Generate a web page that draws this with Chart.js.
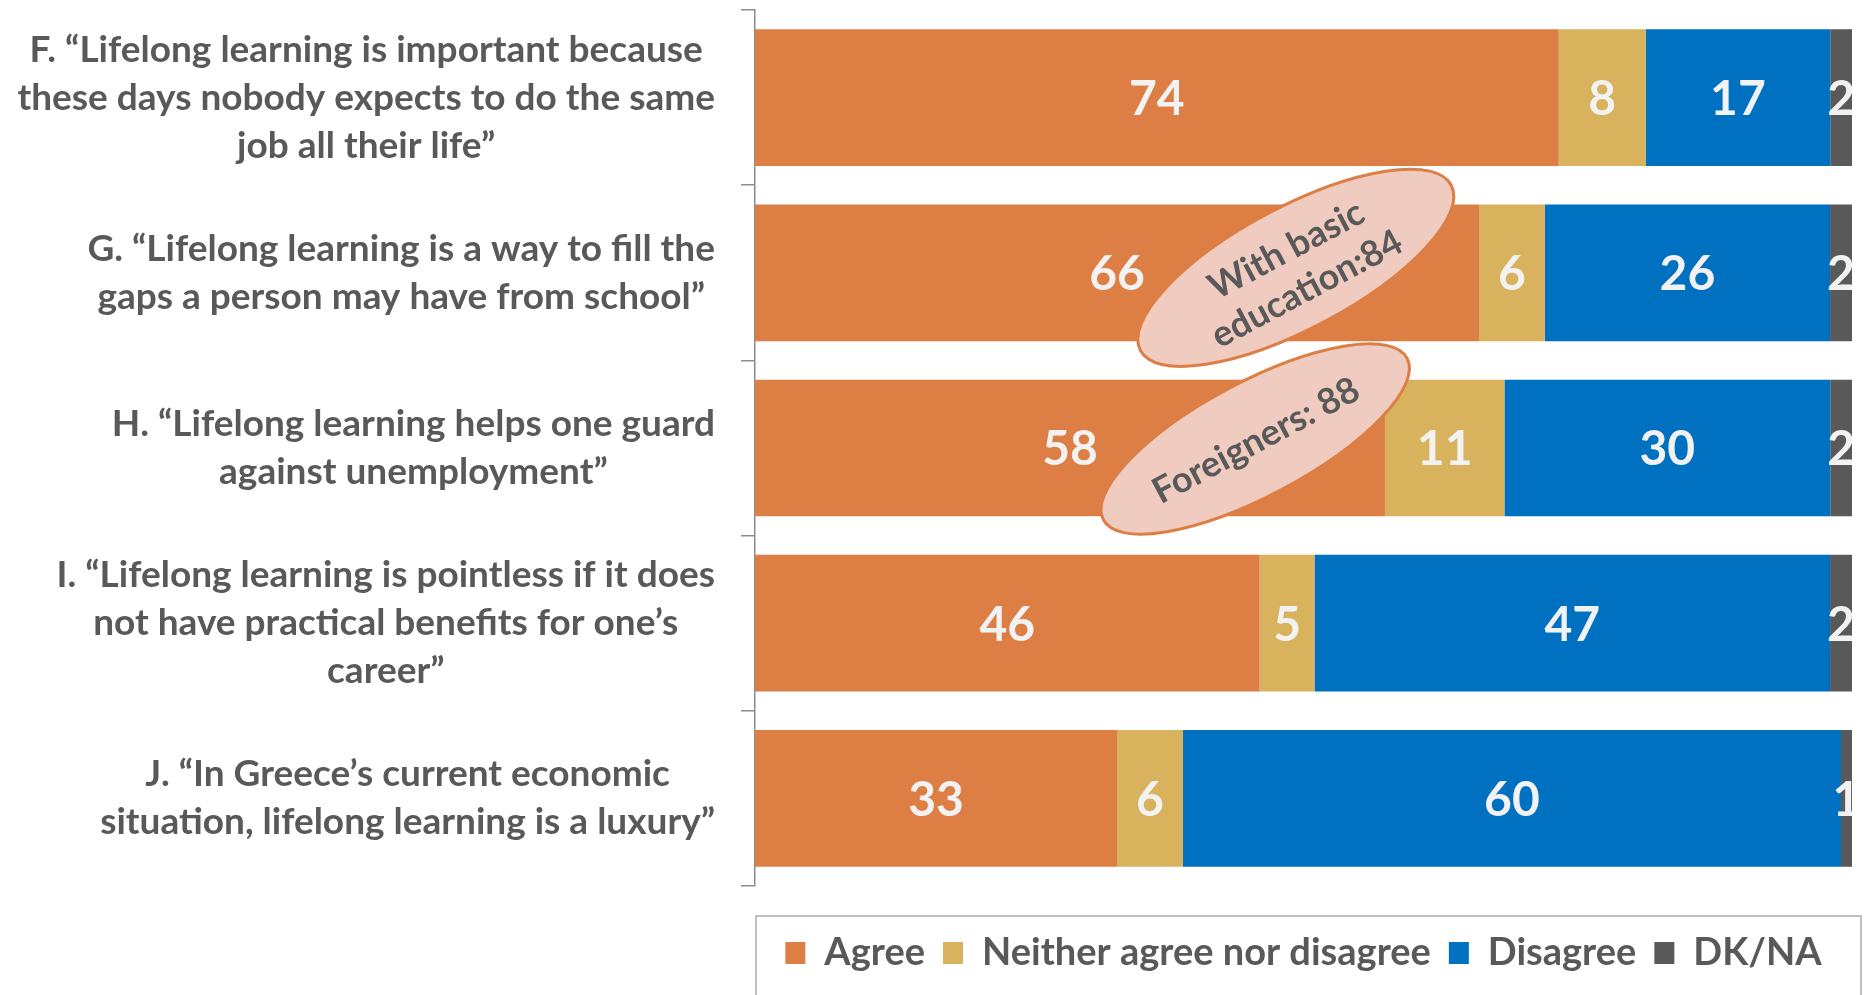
<!DOCTYPE html>
<html>
<head>
<meta charset="utf-8">
<script src="https://cdn.jsdelivr.net/npm/chart.js@4.4.1/dist/chart.umd.min.js"></script>
<style>
  html, body { margin: 0; padding: 0; background: #fff; }
  #wrap { width: 1874px; height: 995px; }
</style>
</head>
<body>
<div id="wrap"><canvas id="lllChart" width="1874" height="995"></canvas></div>
<script>
// statements (one entry per bar, split in lines as on the slide)
const categories = [
  ['F. “Lifelong learning is important because', 'these days nobody expects to do the same', 'job all their life”'],
  ['G. “Lifelong learning is a way to fill the', 'gaps a person may have from school”'],
  ['H. “Lifelong learning helps one guard', 'against unemployment”'],
  ['I. “Lifelong learning is pointless if it does', 'not have practical benefits for one’s', 'career”'],
  ['J. “In Greece’s current economic', 'situation, lifelong learning is a luxury”']
];
const seriesNames = ['Agree', 'Neither agree nor disagree', 'Disagree', 'DK/NA'];
const agree    = [74, 66, 58, 46, 33];
const neither  = [8, 6, 11, 5, 6];
const disagree = [17, 26, 30, 47, 60];
const dkna     = [2, 2, 2, 2, 1];
const calloutTexts = [['With basic', 'education:84'], ['Foreigners: 88']];

const colors = ['#dd7f45', '#d8b25d', '#0070c0', '#595959'];
const FONT = 'Lato, "Open Sans", sans-serif';
const GREY = '#595959';

// 100% stacked: every row fills the axis, labels keep the survey numbers
const raw = [agree, neither, disagree, dkna];
const totals = categories.map((_, i) => raw.reduce((s, a) => s + a[i], 0));
const datasets = raw.map((vals, k) => ({
  label: seriesNames[k],
  data: vals.map((v, i) => v / totals[i] * 100),
  raw: vals,
  backgroundColor: colors[k],
  barPercentage: 0.78,
  categoryPercentage: 1
}));

// where the two bubbles sit (category index, x value, pixel nudge, radii)
const calloutSpots = [
  { cat: 1, at: 49.3, dy: -5, rx: 176, ry: 61 },
  { cat: 2, at: 45.6, dy: -9, rx: 172, ry: 57 }
];

const drawStuff = {
  id: 'drawStuff',
  afterDatasetsDraw(chart) {
    const { ctx, chartArea } = chart;
    ctx.save();
    ctx.beginPath();
    ctx.rect(chartArea.left, chartArea.top, chartArea.right - chartArea.left, chartArea.bottom - chartArea.top);
    ctx.clip();
    ctx.font = 'bold 48px ' + FONT;
    ctx.fillStyle = '#f2f2f2';
    ctx.textAlign = 'center';
    ctx.textBaseline = 'middle';
    chart.data.datasets.forEach((ds, k) => {
      chart.getDatasetMeta(k).data.forEach((bar, i) => {
        const p = bar.getProps(['x', 'y', 'base'], true);
        ctx.fillText(String(ds.raw[i]), (p.x + p.base) / 2, p.y + 2);
      });
    });
    ctx.restore();
  },
  afterDraw(chart) {
    const { ctx } = chart;
    const xs = chart.scales.x, ys = chart.scales.y;

    // category labels: centred lines, block right-aligned near the axis
    ctx.save();
    ctx.font = 'bold 37px ' + FONT;
    ctx.fillStyle = GREY;
    ctx.textAlign = 'center';
    ctx.textBaseline = 'middle';
    const rightEdge = ys.right - 40;
    categories.forEach((lines, i) => {
      const w = Math.max(...lines.map(l => ctx.measureText(l).width));
      const cx = rightEdge - w / 2;
      const cy = ys.getPixelForTick(i);
      lines.forEach((l, j) => ctx.fillText(l, cx, cy + (j - (lines.length - 1) / 2) * 48));
    });
    ctx.restore();

    // callout bubbles
    calloutSpots.forEach((s, n) => {
      const cx = xs.getPixelForValue(s.at);
      const cy = ys.getPixelForTick(s.cat) + s.dy;
      ctx.save();
      ctx.translate(cx, cy);
      ctx.rotate(-28 * Math.PI / 180);
      ctx.beginPath();
      ctx.ellipse(0, 0, s.rx, s.ry, 0, 0, Math.PI * 2);
      ctx.fillStyle = '#f0cbbf';
      ctx.fill();
      ctx.lineWidth = 3;
      ctx.strokeStyle = '#dd7f45';
      ctx.stroke();
      ctx.font = 'bold 36px ' + FONT;
      ctx.fillStyle = GREY;
      ctx.textAlign = 'center';
      ctx.textBaseline = 'middle';
      const lines = calloutTexts[n];
      lines.forEach((l, j) => ctx.fillText(l, 0, (j - (lines.length - 1) / 2) * 44 + 2));
      ctx.restore();
    });

    // frame round the legend
    const lg = chart.legend;
    ctx.save();
    ctx.strokeStyle = '#bfbfbf';
    ctx.lineWidth = 2;
    ctx.strokeRect(lg.left + 1, lg.top, lg.right - lg.left + 8, chart.height - lg.top + 2);
    ctx.restore();
  }
};

const ctx = document.getElementById('lllChart').getContext('2d');
new Chart(ctx, {
  type: 'bar',
  data: { labels: categories, datasets: datasets },
  options: {
    indexAxis: 'y',
    responsive: false,
    animation: false,
    layout: { padding: { top: 10, right: 22, left: 0, bottom: 13 } },
    scales: {
      x: {
        stacked: true, min: 0, max: 100,
        grid: { display: false }, border: { display: false },
        ticks: { display: false },
        afterFit: s => { s.height = 30; }
      },
      y: {
        stacked: true,
        grid: { offset: true, drawOnChartArea: false, tickLength: 14, color: '#8c8c8c', lineWidth: 1.5 },
        border: { color: '#8c8c8c', width: 1.5 },
        ticks: { display: false },
        afterFit: s => { s.width = 755; }
      }
    },
    plugins: {
      legend: {
        position: 'bottom',
        fullSize: false,
        labels: {
          boxWidth: 20, boxHeight: 22, padding: 18,
          color: GREY,
          font: { family: FONT, size: 38, weight: 'bold' }
        }
      },
      tooltip: { enabled: false }
    }
  },
  plugins: [drawStuff]
});
</script>
</body>
</html>
